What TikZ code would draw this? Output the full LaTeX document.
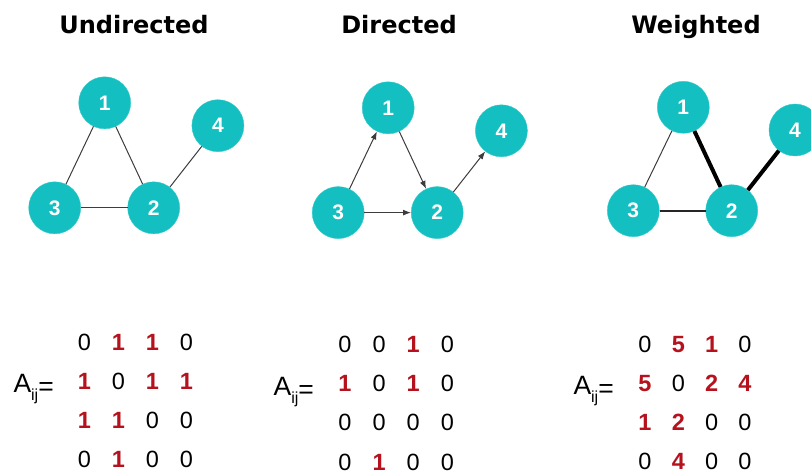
\documentclass[tikz,border=0pt]{standalone}
\usepackage{fontspec}
\setmainfont{Liberation Sans}
\newfontfamily\titlefont{DejaVu Sans}
\usetikzlibrary{arrows.meta}
\definecolor{teal1}{RGB}{19,191,192}
\definecolor{red1}{RGB}{181,18,30}
\definecolor{edgegray}{RGB}{60,60,60}
\tikzset{
  gnode/.style={circle,fill=teal1,draw=teal1!85!white,line width=0.4pt,minimum size=52pt,inner sep=0pt,text=white,font=\fontsize{21}{21}\selectfont\bfseries},
  gtitle/.style={anchor=base,font=\titlefont\fontsize{24}{24}\selectfont\bfseries},
  uedge/.style={draw=edgegray,line width=1pt},
  dedge/.style={draw=edgegray,line width=1pt,-{Latex[length=8pt,width=6pt]}},
  mz/.style={text=black,inner sep=0pt,font=\fontsize{23.5}{23.5}\selectfont},
  mr/.style={text=red1,inner sep=0pt,font=\fontsize{23.5}{23.5}\selectfont\bfseries},
  alabel/.style={anchor=base west,inner sep=0pt,font=\fontsize{26.5}{26.5}\selectfont}
}
\newcommand{\Aij}{A\raisebox{-8pt}{\fontsize{16}{16}\selectfont ij}\raisebox{-3pt}{=}}
\begin{document}
\begin{tikzpicture}[x=1pt,y=-1pt]
\useasboundingbox (0,0) rectangle (811,473);
% titles
\node[gtitle] (t1) at (134,33.3) {Undirected};
\node[gtitle] (t2) at (399,33.3) {Directed};
\node[gtitle] (t3) at (696,33.3) {Weighted};
% undirected
\node[gnode] (u1) at (104.7,102.8) {1};
\node[gnode] (u2) at (153.7,207.8) {2};
\node[gnode] (u3) at (54.7,207.8) {3};
\node[gnode] (u4) at (217.9,125.7) {4};
\draw[uedge] (u1) -- (u3);
\draw[uedge] (u1) -- (u2);
\draw[uedge] (u3) -- (u2);
\draw[uedge] (u2) -- (u4);
% directed
\node[gnode] (d1) at (388.2,107.8) {1};
\node[gnode] (d2) at (437.2,212.6) {2};
\node[gnode] (d3) at (338.2,212.6) {3};
\node[gnode] (d4) at (501.4,130.8) {4};
\draw[dedge] (d3) -- (d1);
\draw[dedge] (d1) -- (d2);
\draw[dedge] (d3) -- (d2);
\draw[dedge] (d2) -- (d4);
% weighted
\node[gnode] (w1) at (683.3,107.3) {1};
\node[gnode] (w2) at (731.7,210.7) {2};
\node[gnode] (w3) at (633.3,210.7) {3};
\node[gnode] (w4) at (795,130) {4};
\draw[draw=edgegray,line width=1pt] (w1) -- (w3);
\draw[draw=black!85,line width=2pt] (w3) -- (w2);
\draw[draw=black,line width=4pt] (w1) -- (w2);
\draw[draw=black,line width=4pt] (w2) -- (w4);
% matrices
\node[alabel] (a1) at (13.3,392.3) {\Aij};
\foreach \row [count=\r] in {{0/mz,1/mr,1/mr,0/mz},{1/mr,0/mz,1/mr,1/mr},{1/mr,1/mr,0/mz,0/mz},{0/mz,1/mr,0/mz,0/mz}}{
  \foreach \v/\s [count=\c] in \row {
    \node[\s] (U\r\c) at ({84.5+(\c-1)*34},{342+(\r-1)*39.2}) {\v};
  }
}
\node[alabel] (a2) at (273.4,395) {\Aij};
\foreach \row [count=\r] in {{0/mz,0/mz,1/mr,0/mz},{1/mr,0/mz,1/mr,0/mz},{0/mz,0/mz,0/mz,0/mz},{0/mz,1/mr,0/mz,0/mz}}{
  \foreach \v/\s [count=\c] in \row {
    \node[\s] (D\r\c) at ({345+(\c-1)*34.1},{344.5+(\r-1)*39.2}) {\v};
  }
}
\node[alabel] (a3) at (573.3,394.7) {\Aij};
\foreach \row [count=\r] in {{0/mz,5/mr,1/mr,0/mz},{5/mr,0/mz,2/mr,4/mr},{1/mr,2/mr,0/mz,0/mz},{0/mz,4/mr,0/mz,0/mz}}{
  \foreach \v/\s [count=\c] in \row {
    \node[\s] (W\r\c) at ({645+(\c-1)*33.3},{344.3+(\r-1)*39.1}) {\v};
  }
}
\end{tikzpicture}
\end{document}
